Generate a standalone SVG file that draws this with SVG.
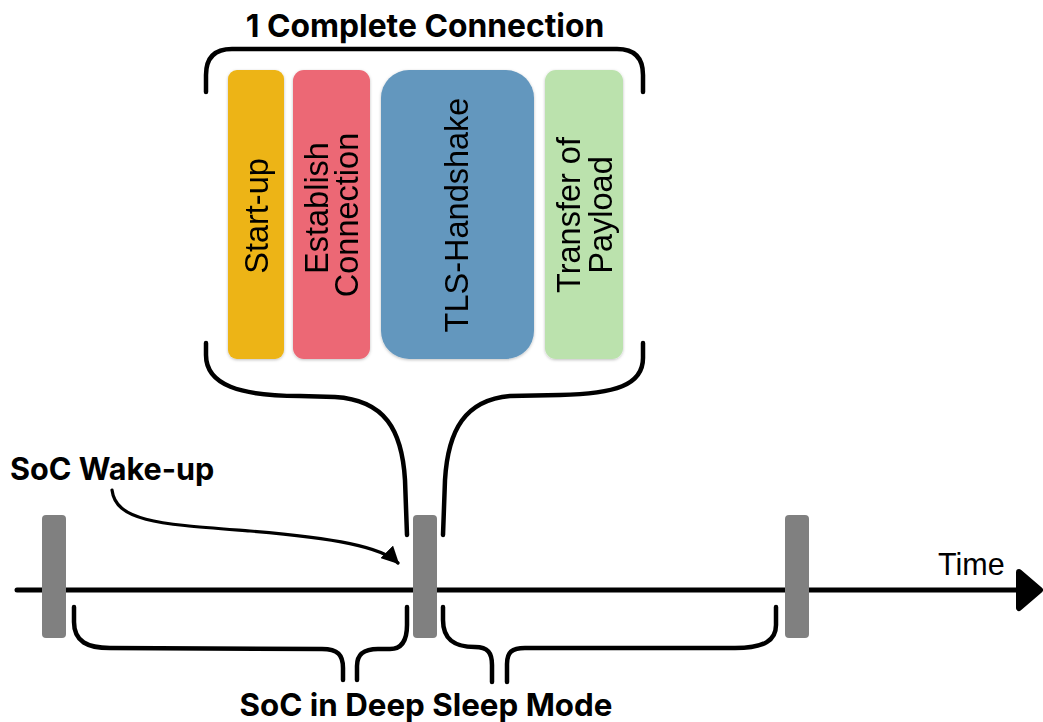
<svg xmlns="http://www.w3.org/2000/svg" width="1043" height="722" viewBox="0 0 1043 722">
<style>
.bold{font-family:Inter,"Liberation Sans",sans-serif;font-weight:700;fill:#000}
.lbl{font-family:"Liberation Sans",Arial,sans-serif;font-size:32.5px;fill:#000;text-anchor:middle}
.brace{fill:none;stroke:#000;stroke-width:4.5;stroke-linecap:round;stroke-linejoin:round}
.bar{fill:#808080}
</style>
<defs>
<filter id="sh" x="-20%" y="-10%" width="140%" height="120%">
<feDropShadow dx="0" dy="1" stdDeviation="1.5" flood-color="#000" flood-opacity="0.25"/>
</filter>
<marker id="ah" viewBox="0 0 10 10" refX="9" refY="5" markerWidth="5.5" markerHeight="5.5" orient="auto" markerUnits="strokeWidth">
<path d="M0,0 L10,5 L0,10 Z" fill="#000"/>
</marker>
</defs>
<rect width="1043" height="722" fill="#fff"/>

<text id="title" class="bold" x="425" y="37" font-size="31.8" text-anchor="middle">1 Complete Connection</text>

<g id="startup" filter="url(#sh)">
<rect x="228" y="70" width="56" height="289" rx="9" fill="#EDB414"/>
<text class="lbl" transform="translate(268,216) rotate(-90)">Start-up</text>
</g>
<g id="establish" filter="url(#sh)">
<rect x="293" y="70" width="77" height="289" rx="11" fill="#EC6774"/>
<text class="lbl" transform="translate(328,208) rotate(-90)">Establish</text>
<text class="lbl" transform="translate(358,215) rotate(-90)">Connection</text>
</g>
<g id="tls" filter="url(#sh)">
<rect x="381" y="70" width="153" height="289" rx="28" fill="#6497BE"/>
<text class="lbl" transform="translate(468,215) rotate(-90)">TLS-Handshake</text>
</g>
<g id="transfer" filter="url(#sh)">
<rect x="545" y="70" width="78" height="289" rx="11" fill="#BBE2AD"/>
<text class="lbl" transform="translate(580,215) rotate(-90)">Transfer of</text>
<text class="lbl" transform="translate(612,215) rotate(-90)">Payload</text>
</g>

<g id="connectors">
<path class="brace" d="M206,92 L206,75 Q206,49 232,49 L617,49 Q643,49 643,75 L643,92"/>
<path class="brace" d="M206,343 L206,355 C206,385 240,396 300,396 L335,397 C385,400 402,430 405,480 L407,535"/>
<path class="brace" d="M643,343 L643,358 C643,385 615,394 560,395 L510,396 C465,400 448,430 445,480 L443,535"/>
<path class="brace" d="M74,607 L74,622 C74,642 88,648 110,648 L322,649 C338,649 343,655 343,668 L343,680"/>
<path class="brace" d="M357,680 L357,666 C357,654 364,649 378,649 L390,649 C402,649 407,640 407,625 L407,607"/>
<path class="brace" d="M443,607 L443,620 C443,640 455,647 475,647 C488,647 492,653 492,665 L492,682"/>
<path class="brace" d="M507,682 L507,664 C507,652 512,648 525,648 L735,648 C765,648 776,640 776,625 L776,607"/>
<path d="M112,490 C116,522 160,524 250,531 C335,538 382,547 398,563" fill="none" stroke="#000" stroke-width="3.2" stroke-linecap="round" marker-end="url(#ah)"/>
<line x1="17" y1="590" x2="1022" y2="590" stroke="#000" stroke-width="5" stroke-linecap="round"/>
<polygon points="1019,572 1040,590 1019,608" fill="#000" stroke="#000" stroke-width="6" stroke-linejoin="round"/>
</g>

<g id="bar1"><rect class="bar" x="42" y="515" width="24" height="123" rx="4"/></g>
<g id="bar2"><rect class="bar" x="413" y="515" width="24" height="123" rx="4"/></g>
<g id="bar3"><rect class="bar" x="785" y="515" width="24" height="123" rx="4"/></g>

<text id="wake" class="bold" x="10" y="480" font-size="30.6">SoC Wake-up</text>
<text id="sleep" class="bold" x="426" y="716" font-size="31.3" text-anchor="middle">SoC in Deep Sleep Mode</text>
<text id="time" x="938" y="575" font-family="'Liberation Sans',Arial,sans-serif" font-size="30.5">Time</text>
</svg>
